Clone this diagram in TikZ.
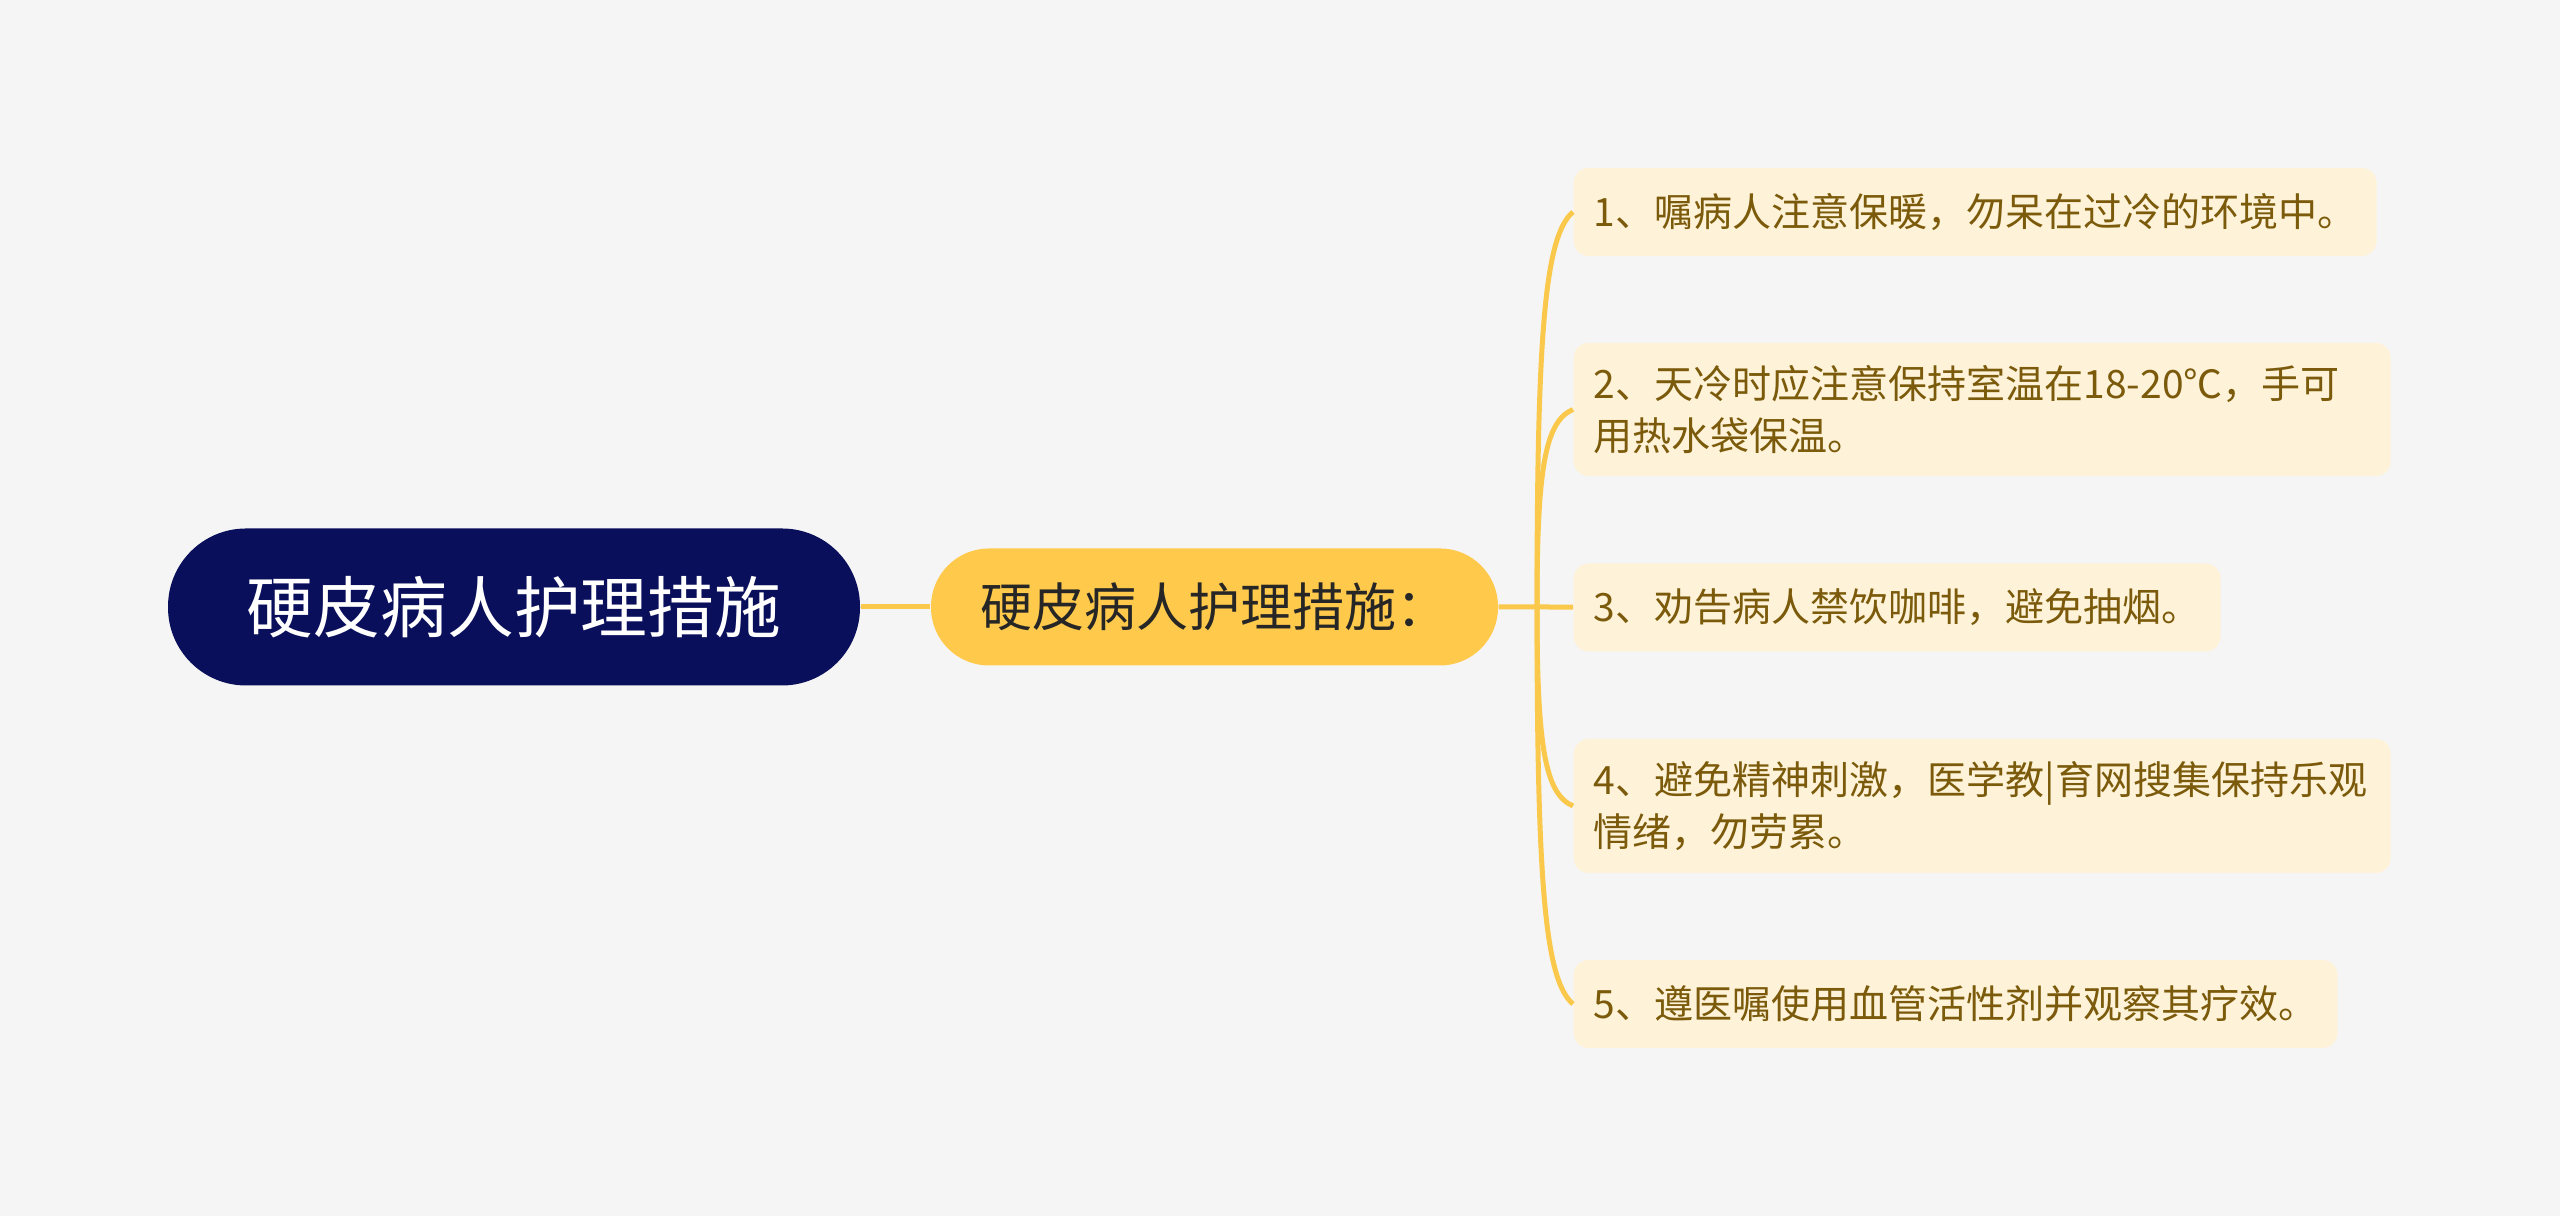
\documentclass[tikz,border=0pt]{standalone}
\usepackage{fontspec}
\setmainfont{Noto Sans CJK SC}
\usetikzlibrary{calc}
\definecolor{bgcol}{HTML}{F5F5F5}
\definecolor{rootcol}{HTML}{0A0F5B}
\definecolor{maincol}{HTML}{FFC94B}
\definecolor{linkcol}{HTML}{FAC84A}
\definecolor{leafcol}{HTML}{FEF3D8}
\definecolor{leaftxt}{HTML}{7B5B0B}
\tikzset{
	rootbox/.style={fill=rootcol, text=white, rounded corners=0.78cm,
		minimum width=6.92cm, minimum height=1.57cm, font=\fontsize{19}{23}\selectfont},
	mainbox/.style={fill=maincol, text=black!85, rounded corners=0.58cm,
		minimum width=5.67cm, minimum height=1.17cm, font=\fontsize{14.8}{18}\selectfont},
	leafbox/.style={fill=leafcol, text=leaftxt, rounded corners=0.15cm, anchor=west,
		align=left, inner xsep=0.2cm, inner ysep=0.22cm, minimum height=0.88cm,
		font=\fontsize{11.1}{15}\selectfont},
	widebox/.style={leafbox, text width=7.77cm},
	link/.style={draw=linkcol, line width=0.05cm}
}
\begin{document}
\begin{tikzpicture}
	\fill[bgcol] (0,0) rectangle (25.6,12.16);
	\useasboundingbox (0,0) rectangle (25.6,12.16);
	\def\lx{15.73}
	% main nodes
	\node[rootbox] (root) at (5.14,6.09) {硬皮病人护理措施};
	\node[mainbox] (main) at (12.145,6.09) {硬皮病人护理措施：};
	\coordinate (hub) at (15.37,6.09);
	% leaves
	\node[leafbox] (l1) at (\lx,10.04) {1、嘱病人注意保暖，勿呆在过冷的环境中。};
	\node[widebox] (l2) at (\lx,8.065) {2、天冷时应注意保持室温在18-20℃，手可\\用热水袋保温。};
	\node[leafbox] (l3) at (\lx,6.085) {3、劝告病人禁饮咖啡，避免抽烟。};
	\node[widebox] (l4) at (\lx,4.10) {4、避免精神刺激，医学教|育网搜集保持乐观\\情绪，勿劳累。};
	\node[leafbox] (l5) at (\lx,2.12) {5、遵医嘱使用血管活性剂并观察其疗效。};
	% links
	\draw[link] (root) -- (main);
	\draw[link] (main) -- (hub) -- (l3);
	\foreach \n in {1,2,4,5} {
		\draw[link] (hub) .. controls ($(hub |- l\n.west)!0.3!(hub)$)
			and ($(hub |- l\n.west)!0.06!(hub)+(0.08,0)$) .. (l\n.west);
	}
\end{tikzpicture}
\end{document}
